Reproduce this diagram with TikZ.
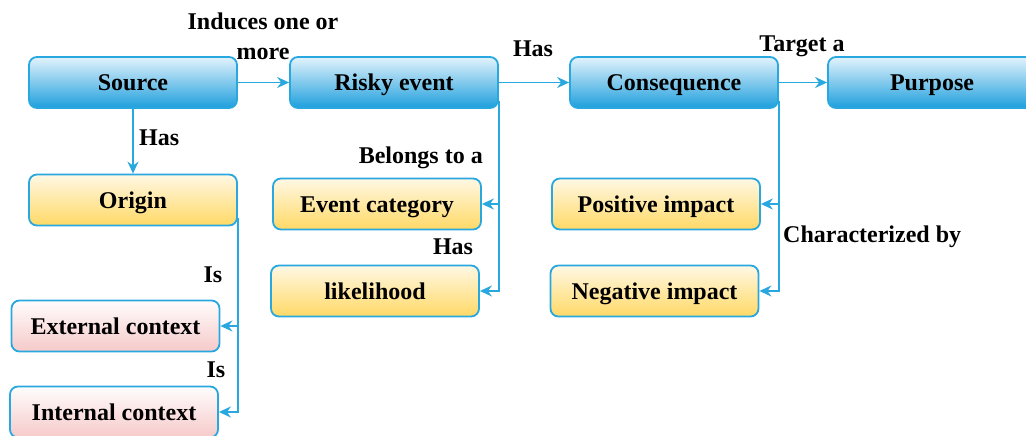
\documentclass[tikz,border=0pt]{standalone}
\usepackage{fontspec}
\setmainfont{Liberation Serif}
\usetikzlibrary{arrows.meta}
\definecolor{lineblue}{HTML}{29A8E0}
\definecolor{blueTop}{HTML}{E3F3FC}
\definecolor{blueBot}{HTML}{1E9FDD}
\definecolor{yelTop}{HTML}{FFF8E4}
\definecolor{yelBot}{HTML}{FFD966}
\definecolor{pinkTop}{HTML}{FFFCFC}
\definecolor{pinkBot}{HTML}{F6CACA}
\tikzset{
  box/.style={draw=lineblue, line width=1.8pt, rounded corners=8pt,
    minimum width=208pt, minimum height=51pt, inner sep=0pt,
    text height=19pt, text depth=2pt,
    font=\fontsize{24}{26}\selectfont\bfseries},
  bluebox/.style={box, top color=blueTop, bottom color=blueBot},
  yelbox/.style={box, top color=yelTop, bottom color=yelBot},
  pinkbox/.style={box, top color=pinkTop, bottom color=pinkBot},
  conn/.style={draw=lineblue, line width=1.8pt,
    -{Stealth[length=12pt, width=11pt, inset=4pt]}},
  lbl/.style={font=\fontsize{24}{30}\selectfont\bfseries, inner sep=0pt}
}
\begin{document}
\begin{tikzpicture}[x=1pt, y=-1pt]
\useasboundingbox (0,0) rectangle (1026,436);
\clip (0,0) rectangle (1026,436);
\fill[white] (0,0) rectangle (1026,436);

% top row
\node[bluebox] (src)  at (133,82.5) {Source};
\node[bluebox] (risk) at (394,82.5) {Risky event};
\node[bluebox] (cons) at (674,82.5) {Consequence};
\node[bluebox] (purp) at (932,82.5) {Purpose};

% attributes
\node[yelbox] (orig)  at (133,200) {Origin};
\node[yelbox] (evcat) at (377,204) {Event category};
\node[yelbox] (lik)   at (375,291) {likelihood};
\node[yelbox] (pos)   at (656,204) {Positive impact};
\node[yelbox] (neg)   at (654.5,291) {Negative impact};
\node[pinkbox] (ext)  at (115.5,326) {External context};
\node[pinkbox] (int)  at (114,412) {Internal context};

% branch points on the right edges of the parent boxes
\coordinate (riskR) at ([yshift=8pt]risk.south east);
\coordinate (origR) at ([yshift=8pt]orig.south east);
\coordinate (consR) at ([yshift=8pt]cons.south east);

% connectors
\draw[conn] (src) -- (risk);
\draw[conn] (risk) -- (cons);
\draw[conn] (cons) -- (purp);
\draw[conn] (src) -- (orig);
\draw[conn] (riskR) |- (evcat.east);
\draw[conn] (riskR) |- (lik.east);
\draw[conn] (origR) |- (ext.east);
\draw[conn] (origR) |- (int.east);
\draw[conn] (consR) |- (pos.east);
\draw[conn] (consR) |- (neg.east);

% connector labels
\node[lbl, align=center] (l1) at (263,36) {Induces one or\\more};
\node[lbl] (l2) at (533,49) {Has};
\node[lbl] (l3) at (802,46) {Target a};
\node[lbl, anchor=west] (l4) at (139,138) {Has};
\node[lbl, anchor=east] (l5) at (483,158) {Belongs to a};
\node[lbl] (l6) at (453,247) {Has};
\node[lbl] (l7) at (213,275) {Is};
\node[lbl] (l8) at (216,370) {Is};
\node[lbl, anchor=west] (l9) at (783,237) {Characterized by};
\end{tikzpicture}
\end{document}
